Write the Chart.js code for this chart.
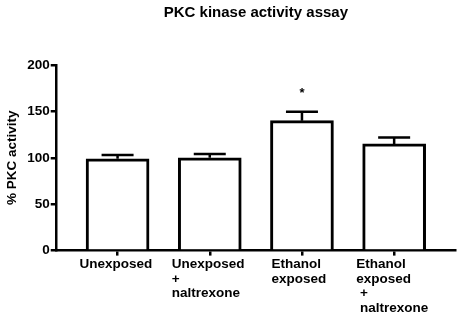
<!DOCTYPE html>
<html>
<head>
<meta charset="utf-8">
<script src="https://cdn.jsdelivr.net/npm/chart.js@4"></script>
<style>
html,body{margin:0;padding:0;background:#fff;}
#wrap{width:459px;height:321px;}
</style>
</head>
<body>
<div id="wrap"><canvas id="c" width="459" height="321"></canvas></div>
<script>
const chartTitle = 'PKC kinase activity assay';
const yTitle = '% PKC activity';
const categories = [
  ['Unexposed'],
  ['Unexposed', '+', 'naltrexone'],
  ['  Ethanol', '  exposed'],
  ['Ethanol', 'exposed', ' +', ' naltrexone']
];
const values = [99, 100, 140, 115];
const errors = [4, 4, 9.5, 7];
const significance = ['', '', '*', ''];
const yTicks = [0, 50, 100, 150, 200];

const FONT = 'Liberation Sans, Arial, Helvetica, sans-serif';

const errorBarPlugin = {
  id: 'errorBars',
  afterDatasetsDraw(chart) {
    const ctx = chart.ctx;
    const xs = chart.scales.x, ys = chart.scales.y;
    ctx.save();
    ctx.strokeStyle = '#000';
    ctx.lineWidth = 2.5;
    values.forEach((v, i) => {
      const x = xs.getPixelForValue(i);
      const y0 = ys.getPixelForValue(v);
      const y1 = ys.getPixelForValue(v + errors[i]);
      ctx.beginPath();
      ctx.moveTo(x, y0);
      ctx.lineTo(x, y1);
      ctx.moveTo(x - 16, y1);
      ctx.lineTo(x + 16, y1);
      ctx.stroke();
      if (significance[i]) {
        ctx.fillStyle = '#000';
        ctx.font = 'bold 13px ' + FONT;
        ctx.textAlign = 'center';
        ctx.textBaseline = 'middle';
        ctx.fillText(significance[i], x, y1 - 18);
      }
    });
    ctx.restore();
  }
};

new Chart(document.getElementById('c'), {
  type: 'bar',
  data: {
    datasets: [{
      data: values.map((v, i) => ({x: i, y: v})),
      backgroundColor: '#fff',
      borderColor: '#000',
      borderWidth: 3,
      barThickness: 63
    }]
  },
  options: {
    responsive: false,
    animation: false,
    devicePixelRatio: 1,
    layout: {padding: {left: 4, right: 4, top: 0, bottom: 4}},
    plugins: {
      legend: {display: false},
      tooltip: {enabled: false},
      title: {
        display: true,
        text: chartTitle,
        fullSize: false,
        color: '#000',
        font: {family: FONT, size: 15, weight: 'bold'},
        padding: {top: 4, bottom: 43}
      }
    },
    scales: {
      x: {
        type: 'linear',
        offset: false,
        min: -0.66,
        max: 3.66,
        afterBuildTicks(scale) { scale.ticks = categories.map((c, i) => ({value: i})); },
        afterFit(scale) { scale.paddingLeft = 0; scale.paddingRight = 0; },
        grid: {offset: false, drawOnChartArea: false, drawTicks: true, tickLength: 5, color: '#000', lineWidth: 2.5},
        border: {color: '#000', width: 2.5},
        ticks: {
          align: 'start',
          labelOffset: -38,
          padding: 1,
          maxRotation: 0,
          autoSkip: false,
          color: '#000',
          font: {family: FONT, size: 13.5, weight: 'bold', lineHeight: 1.1},
          callback: (v) => categories[v]
        }
      },
      y: {
        min: 0,
        max: 200,
        afterBuildTicks(scale) { scale.ticks = yTicks.map(v => ({value: v})); },
        grid: {drawOnChartArea: false, drawTicks: true, tickLength: 6, color: '#000', lineWidth: 2.5},
        border: {color: '#000', width: 2.5},
        title: {
          display: true,
          text: yTitle,
          color: '#000',
          font: {family: FONT, size: 13.5, weight: 'bold'},
          padding: {top: 0, bottom: 6}
        },
        ticks: {
          padding: 1,
          color: '#000',
          font: {family: FONT, size: 13.5, weight: 'bold'}
        }
      }
    }
  },
  plugins: [errorBarPlugin]
});
</script>
</body>
</html>
